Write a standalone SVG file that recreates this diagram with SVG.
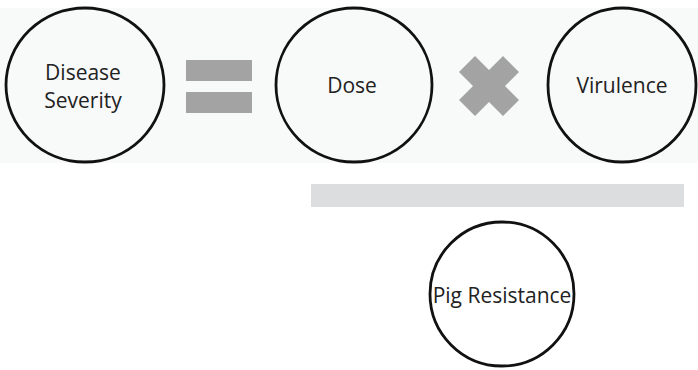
<svg xmlns="http://www.w3.org/2000/svg" width="698" height="370" viewBox="0 0 698 370">
<style>
.node{fill:none;stroke:#111;stroke-width:2.8}
.lbl{font-family:"Open Sans","Liberation Sans",sans-serif;font-size:21px;fill:#222;text-anchor:middle}
.op{fill:#a3a3a3}
</style>
<rect width="698" height="370" fill="#fff"/>
<rect x="0" y="8" width="698" height="155" fill="#f8f9f9"/>
<g id="disease-severity">
<ellipse class="node" cx="85" cy="85" rx="79" ry="77"/>
<text class="lbl" x="83" y="80">Disease</text>
<text class="lbl" x="83" y="108">Severity</text>
</g>
<g id="equals">
<rect class="op" x="186" y="60" width="66" height="21"/>
<rect class="op" x="186" y="92" width="66" height="21"/>
</g>
<g id="dose">
<ellipse class="node" cx="354" cy="85" rx="78" ry="77"/>
<text class="lbl" x="352" y="93">Dose</text>
</g>
<g id="times">
<path class="op" d="M475,56 L489,70 L503,56 L519,72 L505,86 L519,100 L503,116 L489,102 L475,116 L459,100 L473,86 L459,72 Z"/>
</g>
<g id="virulence">
<ellipse class="node" cx="622" cy="85" rx="74" ry="77"/>
<text class="lbl" x="622" y="93">Virulence</text>
</g>
<g id="divider">
<rect x="311" y="184" width="373" height="23" fill="#dcdddf"/>
</g>
<g id="pig-resistance">
<circle class="node" cx="502" cy="294" r="72"/>
<text class="lbl" x="502" y="303">Pig Resistance</text>
</g>
<g id="connectors"></g>
</svg>
